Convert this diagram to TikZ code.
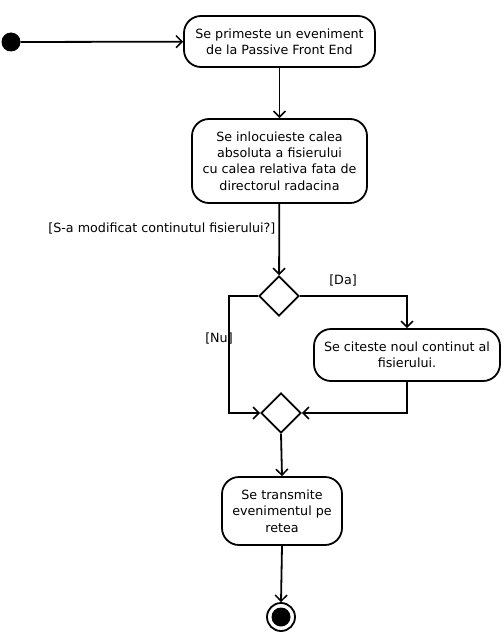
\documentclass[tikz,border=0pt]{standalone}
\usepackage{fontspec}
\setmainfont{DejaVu Sans}
\usetikzlibrary{arrows.meta,shapes.geometric}
\begin{document}
\begin{tikzpicture}[x=1pt,y=-1pt,
  every node/.style={font=\fontsize{12.7}{16.3}\selectfont},
  act/.style={draw,line width=1.8pt,rounded corners=17pt,align=center,inner sep=0pt},
  dec/.style={draw,line width=1.8pt,diamond,minimum width=40pt,minimum height=40pt,inner sep=0pt},
  flow/.style={line width=1.8pt,-{Straight Barb[length=6pt,width=12pt,line width=1.5pt]}},
  lab/.style={inner sep=0pt}]
\useasboundingbox (0,0) rectangle (503,634);
\node[circle,fill=black,minimum size=19pt,inner sep=0pt] (start) at (11,42) {};
\node[act,minimum width=191pt,minimum height=51pt] (a1) at (279.5,41.5) {Se primeste un eveniment\\de la Passive Front End};
\node[act,minimum width=175pt,minimum height=84pt] (a2) at (279.5,161) {Se inlocuieste calea\\absoluta a fisierului\\cu calea relativa fata de\\directorul radacina};
\node[dec] (d1) at (279,296) {};
\node[act,minimum width=186pt,minimum height=52pt] (a3) at (407,355) {Se citeste noul continut al\\fisierului.};
\node[dec] (d2) at (281,413) {};
\node[act,minimum width=120pt,minimum height=68pt] (a4) at (282,511) {Se transmite\\evenimentul pe\\retea};
\node[circle,draw,line width=1.8pt,minimum size=28pt,inner sep=0pt] (end) at (281,617) {};
\node[circle,fill=black,minimum size=19pt,inner sep=0pt] at (end) {};
\coordinate (cr) at (407,296);
\coordinate (cl) at (229,296);
\coordinate (cl2) at (229,413);
\coordinate (cr2) at (407,413);
\draw[flow] (start) -- (a1);
\draw[flow] (a1) -- (a2);
\draw[flow] (a2) -- node[lab,pos=0.34,left=3pt] {[S-a modificat continutul fisierului?]} (d1);
\draw[flow] (d1.east) -- (cr) -- (a3.north);
\draw[flow] (d1.west) -- (cl) -- (cl2) -- (d2.west);
\draw[flow] (a3.south) -- (cr2) -- (d2.east);
\draw[flow] (d2.south) -- (a4.north);
\draw[flow] (a4.south) -- (end.north);
\node[lab] (da) at (343,281) {[Da]};
\node[lab] (nu) at (219,339) {[Nu]};
\end{tikzpicture}
\end{document}
